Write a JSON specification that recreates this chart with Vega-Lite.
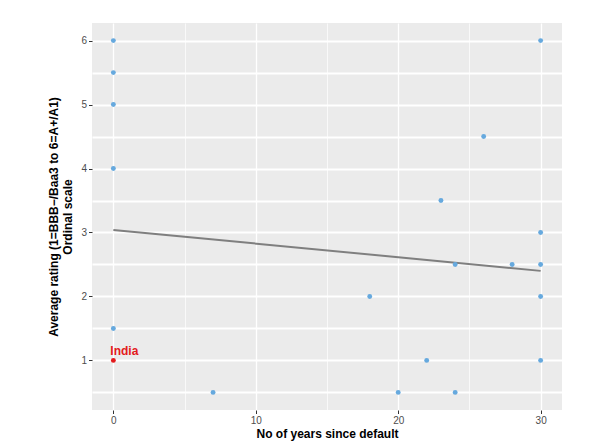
{
  "$schema": "https://vega.github.io/schema/vega-lite/v6.json",
  "autosize": "none",
  "width": 470,
  "height": 387,
  "padding": {"left": 92, "top": 23, "right": 43, "bottom": 38},
  "background": "white",
  "config": {
    "view": {"fill": "#EBEBEB", "stroke": null},
    "axis": {
      "grid": true,
      "gridColor": "#FFFFFF",
      "gridOpacity": 1,
      "domain": false,
      "tickColor": "#333333",
      "tickSize": 3.5,
      "labelColor": "#4D4D4D",
      "labelFontSize": 10,
      "labelFont": "Liberation Sans",
      "titleFont": "Liberation Sans",
      "titleFontSize": 12,
      "titleFontWeight": "bold",
      "titleColor": "black"
    },
    "axisY": {"grid": true, "gridColor": "#FFFFFF", "gridWidth": 2}
  },
  "datasets": {
    "pts": [
      {"years": 0, "rating": 6, "country": "Other"},
      {"years": 0, "rating": 5.5, "country": "Other"},
      {"years": 0, "rating": 5, "country": "Other"},
      {"years": 0, "rating": 4, "country": "Other"},
      {"years": 0, "rating": 1.5, "country": "Other"},
      {"years": 0, "rating": 1, "country": "India"},
      {"years": 7, "rating": 0.5, "country": "Other"},
      {"years": 18, "rating": 2, "country": "Other"},
      {"years": 20, "rating": 0.5, "country": "Other"},
      {"years": 22, "rating": 1, "country": "Other"},
      {"years": 23, "rating": 3.5, "country": "Other"},
      {"years": 24, "rating": 2.5, "country": "Other"},
      {"years": 24, "rating": 0.5, "country": "Other"},
      {"years": 26, "rating": 4.5, "country": "Other"},
      {"years": 28, "rating": 2.5, "country": "Other"},
      {"years": 30, "rating": 6, "country": "Other"},
      {"years": 30, "rating": 3, "country": "Other"},
      {"years": 30, "rating": 2.5, "country": "Other"},
      {"years": 30, "rating": 2, "country": "Other"},
      {"years": 30, "rating": 1, "country": "Other"}
    ],
    "fit": [
      {"years": 0, "rating": 3.04},
      {"years": 30, "rating": 2.4}
    ],
    "label": [
      {"years": 0, "rating": 1, "name": "India"}
    ]
  },
  "encoding": {
    "x": {
      "field": "years", "type": "quantitative",
      "scale": {"domain": [-1.5, 31.5], "nice": false, "zero": false},
      "axis": {
        "orient": "bottom",
        "values": [0, 5, 10, 15, 20, 25, 30],
        "labelExpr": "datum.value % 10 == 0 ? datum.value : ''",
        "tickOpacity": {"condition": {"test": "datum.value % 10 == 0", "value": 1}, "value": 0},
        "gridWidth": {"condition": {"test": "datum.value % 10 == 0", "value": 1.3}, "value": 0.7},
        "title": "No of years since default",
        "titlePadding": 3,
        "labelPadding": 2
      }
    },
    "y": {
      "field": "rating", "type": "quantitative",
      "scale": {"domain": [0.225, 6.275], "nice": false, "zero": false},
      "axis": {
        "orient": "left",
        "values": [0.5, 1, 1.5, 2, 2.5, 3, 3.5, 4, 4.5, 5, 5.5, 6],
        "labelExpr": "datum.value % 1 == 0 ? datum.value : ''",
        "tickOpacity": {"condition": {"test": "datum.value % 1 == 0", "value": 1}, "value": 0},
        "title": ["Average rating (1=BBB−/Baa3 to 6=A+/A1)", "Ordinal scale"],
        "titlePadding": 6,
        "labelPadding": 2
      }
    }
  },
  "layer": [
    {
      "data": {"name": "fit"},
      "mark": {"type": "line", "color": "#7F7F7F", "strokeWidth": 2}
    },
    {
      "data": {"name": "pts"},
      "mark": {"type": "circle", "size": 24, "opacity": 1},
      "encoding": {
        "color": {
          "field": "country", "type": "nominal",
          "scale": {"domain": ["India", "Other"], "range": ["#E31A1C", "#66A9DE"]},
          "legend": null
        }
      }
    },
    {
      "data": {"name": "label"},
      "mark": {"type": "text", "color": "#E31A1C", "fontWeight": "bold", "fontSize": 12, "font": "Liberation Sans", "dx": 11, "dy": -9},
      "encoding": {
        "text": {"field": "name"}
      }
    }
  ]
}
